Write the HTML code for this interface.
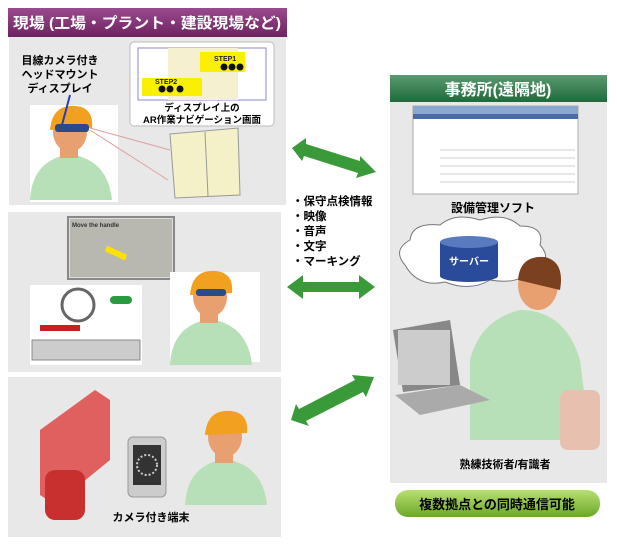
<!DOCTYPE html>
<html><head><meta charset="utf-8"><style>
body{margin:0;background:#fff;width:617px;height:548px;overflow:hidden}
svg text{font-family:"Liberation Sans","Noto Sans CJK JP",sans-serif;font-weight:bold}
</style></head><body>
<svg width="617" height="548" viewBox="0 0 617 548" xmlns="http://www.w3.org/2000/svg">
<defs>
<linearGradient id="pg" x1="0" y1="0" x2="0" y2="1"><stop offset="0" stop-color="#9a4a8e"/><stop offset="1" stop-color="#6e2360"/></linearGradient>
<linearGradient id="gg" x1="0" y1="0" x2="0" y2="1"><stop offset="0" stop-color="#5a9a70"/><stop offset="1" stop-color="#1f6a3a"/></linearGradient>
<linearGradient id="lg" x1="0" y1="0" x2="0" y2="1"><stop offset="0" stop-color="#b8e070"/><stop offset="1" stop-color="#6aa828"/></linearGradient>
<g id="man">
<path d="M-40,60 Q-38,20 0,14 Q38,20 42,60 Z" fill="#b7e0b8"/>
<rect x="-10" y="6" width="18" height="12" fill="#e8a070"/>
<ellipse cx="0" cy="-8" rx="17" ry="20" fill="#e8a070"/>
<path d="M-20,-10 Q-18,-36 6,-34 Q24,-32 22,-12 Z" fill="#f2a020"/>
</g>
</defs>
<rect x="8" y="8" width="279" height="29" fill="url(#pg)"/>
<text x="13" y="28" font-size="15" fill="#fff" textLength="268" lengthAdjust="spacingAndGlyphs">現場 (工場・プラント・建設現場など)</text>
<rect x="9" y="37" width="277" height="168" fill="#e8e8e8"/>
<rect x="30" y="105" width="88" height="97" fill="#fff"/>
<use href="#man" x="70" y="140"/>
<rect x="55" y="124" width="34" height="8" rx="3" fill="#2a4a8a"/>
<line x1="70" y1="95" x2="62" y2="125" stroke="#2040c0" stroke-width="2"/>
<text x="60" y="64" font-size="11" text-anchor="middle">目線カメラ付き</text>
<text x="60" y="78" font-size="11" text-anchor="middle">ヘッドマウント</text>
<text x="60" y="92" font-size="11" text-anchor="middle">ディスプレイ</text>
<rect x="130" y="42" width="144" height="84" rx="4" fill="#fff" stroke="#bbb"/>
<rect x="138" y="48" width="128" height="52" fill="#fff" stroke="#8888cc"/>
<rect x="168" y="48" width="70" height="52" fill="#f4f0d0"/>
<rect x="200" y="52" width="45" height="20" fill="#f8f000"/>
<text x="214" y="61" font-size="7" fill="#222">STEP1</text>
<rect x="142" y="78" width="60" height="18" fill="#f8f000"/>
<text x="155" y="84" font-size="7" fill="#222">STEP2</text>
<g fill="#111"><circle cx="224" cy="67" r="3.5"/><circle cx="232" cy="67" r="3.5"/><circle cx="240" cy="67" r="3.5"/><circle cx="162" cy="89" r="3.5"/><circle cx="170" cy="89" r="3.5"/><circle cx="180" cy="89" r="3.5"/></g>
<text x="202" y="111" font-size="9.5" text-anchor="middle">ディスプレイ上の</text>
<text x="202" y="123" font-size="9.5" text-anchor="middle">AR作業ナビゲーション画面</text>
<polygon points="170,134 238,128 240,195 175,198" fill="#f4f0c8" stroke="#999"/>
<line x1="205" y1="132" x2="208" y2="196" stroke="#999"/>
<line x1="90" y1="128" x2="170" y2="150" stroke="#e0a0a0"/>
<line x1="90" y1="130" x2="168" y2="180" stroke="#e0a0a0"/>
<rect x="8" y="212" width="273" height="160" fill="#e8e8e8"/>
<rect x="30" y="285" width="112" height="80" fill="#fff"/>
<circle cx="78" cy="305" r="16" fill="#fff" stroke="#666" stroke-width="3"/>
<rect x="40" y="325" width="40" height="6" fill="#c82020"/>
<rect x="110" y="296" width="22" height="8" rx="4" fill="#2a9a40"/>
<rect x="32" y="340" width="108" height="20" fill="#ccc" stroke="#888"/>
<rect x="68" y="217" width="106" height="62" fill="#ddd" stroke="#888" stroke-width="2"/>
<rect x="70" y="219" width="102" height="58" fill="#b8b8b0"/>
<rect x="105" y="250" width="22" height="6" fill="#ffe000" transform="rotate(25 116 253)"/>
<text x="72" y="227" font-size="6" fill="#333" font-weight="normal">Move the handle</text>
<rect x="170" y="272" width="90" height="90" fill="#fff"/>
<use href="#man" x="210" y="305"/>
<rect x="196" y="289" width="30" height="7" rx="3" fill="#2a4a8a"/>
<rect x="8" y="377" width="273" height="160" fill="#e8e8e8"/>
<polygon points="40,430 95,390 110,400 110,460 55,505 40,495" fill="#e06060"/>
<rect x="45" y="470" width="40" height="50" rx="10" fill="#c83030"/>
<rect x="128" y="437" width="38" height="60" rx="5" fill="#ccc" stroke="#999"/>
<rect x="133" y="445" width="28" height="40" fill="#333"/>
<circle cx="147" cy="465" r="10" fill="none" stroke="#ccc" stroke-width="2" stroke-dasharray="2 2"/>
<use href="#man" x="225" y="445"/>
<text x="151" y="521" font-size="11" text-anchor="middle">カメラ付き端末</text>
<g fill="#3a9a3a">
<polygon points="292,148 306,138 306,144 360,161 360,156 376,172 356,178 358,173 304,156 302,161" />
<polygon points="287,287 303,275 303,282 359,282 359,275 375,287 359,299 359,292 303,292 303,299"/>
<polygon points="291,420 296,404 299,409 355,380 352,375 374,377 366,397 363,392 306,421 309,426"/>
</g>
<g font-size="11.5"><text x="292" y="205">・保守点検情報</text><text x="292" y="220">・映像</text><text x="292" y="235">・音声</text><text x="292" y="250">・文字</text><text x="292" y="265">・マーキング</text></g>
<rect x="390" y="75" width="217" height="408" fill="#e8e8e8"/>
<rect x="390" y="75" width="217" height="27" fill="url(#gg)"/>
<text x="498" y="95" font-size="16" fill="#fff" text-anchor="middle">事務所(遠隔地)</text>
<rect x="413" y="106" width="165" height="88" fill="#fff" stroke="#aaa"/>
<rect x="413" y="106" width="165" height="8" fill="#8aa8d0"/>
<rect x="413" y="114" width="165" height="5" fill="#4a6aa8"/>
<g stroke="#ccc"><line x1="440" y1="150" x2="575" y2="150"/><line x1="440" y1="158" x2="575" y2="158"/><line x1="440" y1="166" x2="575" y2="166"/><line x1="440" y1="174" x2="575" y2="174"/><line x1="440" y1="182" x2="575" y2="182"/></g>
<text x="493" y="212" font-size="12" text-anchor="middle">設備管理ソフト</text>
<path d="M405,265 Q392,250 410,240 Q412,222 440,225 Q455,212 480,220 Q505,212 520,226 Q545,226 540,245 Q555,262 530,270 Q520,285 490,280 Q470,292 445,282 Q418,288 405,265Z" fill="#fff" stroke="#777"/>
<rect x="440" y="242" width="58" height="34" fill="#2a4a9a"/>
<ellipse cx="469" cy="242" rx="29" ry="6" fill="#5a7ac0"/>
<ellipse cx="469" cy="276" rx="29" ry="6" fill="#2a4a9a"/>
<text x="469" y="265" font-size="10" fill="#fff" text-anchor="middle">サーバー</text>
<path d="M470,360 Q480,320 520,310 Q565,310 580,360 L590,440 L470,440 Z" fill="#b7e0b8"/>
<ellipse cx="538" cy="285" rx="20" ry="25" fill="#e8a070"/>
<path d="M518,280 Q520,255 545,257 Q565,262 560,290 Z" fill="#7a4020"/>
<rect x="560" y="390" width="40" height="60" rx="8" fill="#e8c0b0"/>
<polygon points="393,330 450,320 460,385 403,392" fill="#888"/>
<rect x="398" y="330" width="52" height="55" fill="#ccc"/>
<polygon points="395,395 460,385 490,400 420,415" fill="#aaa"/>
<text x="505" y="468" font-size="11" text-anchor="middle">熟練技術者/有識者</text>
<rect x="395" y="490" width="205" height="27" rx="13" fill="url(#lg)"/>
<text x="497" y="509" font-size="13" text-anchor="middle">複数拠点との同時通信可能</text>
</svg>
</body></html>
